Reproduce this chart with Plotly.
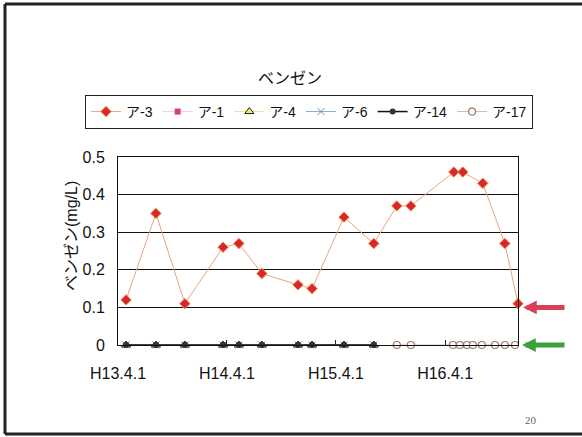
import plotly.graph_objects as go

# ベンゼン濃度（mg/L）の測定結果
dates_a3 = ["2001-04-28", "2001-08-06", "2001-11-11", "2002-03-19", "2002-05-11",
            "2002-07-27", "2002-11-25", "2003-01-11", "2003-04-28", "2003-08-06",
            "2003-10-22", "2003-12-08", "2004-04-30", "2004-05-30", "2004-08-05",
            "2004-10-18", "2004-12-01"]
values_a3 = [0.12, 0.35, 0.11, 0.26, 0.27, 0.19, 0.16, 0.15, 0.34, 0.27,
             0.37, 0.37, 0.46, 0.46, 0.43, 0.27, 0.11]

# 不検出（0）の地点
dates_early = ["2001-04-28", "2001-08-06", "2001-11-11", "2002-03-19", "2002-05-11",
               "2002-07-27", "2002-11-25", "2003-01-11", "2003-04-28", "2003-08-06"]
values_a1 = [0] * 10
values_a4 = [0] * 10
values_a6 = [0] * 10
values_a14 = [0] * 10

dates_a17 = ["2003-10-22", "2003-12-08", "2004-04-27", "2004-05-20", "2004-06-13",
             "2004-07-03", "2004-08-02", "2004-09-15", "2004-10-18", "2004-11-21"]
values_a17 = [0] * 10

tick_dates = ["2001-04-01", "2002-04-01", "2003-04-01", "2004-04-01"]
tick_labels = ["H13.4.1", "H14.4.1", "H15.4.1", "H16.4.1"]
y_ticks = [0, 0.1, 0.2, 0.3, 0.4, 0.5]
y_labels = ["0", "0.1", "0.2", "0.3", "0.4", "0.5"]

JP = "Liberation Sans, Noto Sans CJK JP, sans-serif"
NUM = "Liberation Sans, Arial, sans-serif"

fig = go.Figure()
fig.add_trace(go.Scatter(
    x=dates_a3, y=values_a3, name="ア-3", mode="lines+markers",
    line=dict(color="#e8a482", width=1),
    marker=dict(symbol="diamond", size=8, color="#d8262e",
                line=dict(color="#f08a3a", width=1)),
    cliponaxis=False))
fig.add_trace(go.Scatter(
    x=dates_early, y=values_a1, name="ア-1", mode="lines+markers",
    line=dict(color="#f4d0e0", width=1),
    marker=dict(symbol="square", size=6, color="#d83a8a"),
    cliponaxis=False))
fig.add_trace(go.Scatter(
    x=dates_early, y=values_a4, name="ア-4", mode="lines+markers",
    line=dict(color="#e8e4a0", width=1),
    marker=dict(symbol="triangle-up", size=8, color="#f4f060",
                line=dict(color="#222222", width=1)),
    cliponaxis=False))
fig.add_trace(go.Scatter(
    x=dates_early, y=values_a6, name="ア-6", mode="lines+markers",
    line=dict(color="#8aa8d8", width=1),
    marker=dict(symbol="x-thin", size=7, color="#6a8cc8",
                line=dict(color="#6a8cc8", width=1)),
    cliponaxis=False))
fig.add_trace(go.Scatter(
    x=dates_early, y=values_a14, name="ア-14", mode="lines+markers",
    line=dict(color="#111111", width=1.5),
    marker=dict(symbol="circle", size=6, color="#333333"),
    cliponaxis=False))
fig.add_trace(go.Scatter(
    x=dates_a17, y=values_a17, name="ア-17", mode="lines+markers",
    line=dict(color="#e0b4a4", width=1),
    marker=dict(symbol="circle", size=7, color="white",
                line=dict(color="#9a7a6a", width=1.2)),
    cliponaxis=False))

# 基準値・不検出を示す矢印
fig.add_annotation(x=1.0125, xref="paper", y=0.1, yref="y", text="",
                   showarrow=True, ax=43, ay=0, arrowhead=2, arrowsize=0.55,
                   arrowwidth=5, arrowcolor="#d8405a")
fig.add_annotation(x=1.01, xref="paper", y=0, yref="y", text="",
                   showarrow=True, ax=44, ay=0, arrowhead=2, arrowsize=0.55,
                   arrowwidth=5, arrowcolor="#3aa03a")

# タイトル・軸タイトル・ページ番号
fig.add_annotation(x=0.43, xref="paper", y=1.42, yref="paper", text="ベンゼン",
                   xanchor="center", yanchor="middle",
                   showarrow=False, font=dict(family=JP, size=16, color="#111"))
fig.add_annotation(x=-0.115, xref="paper", y=0.58, yref="paper",
                   text="ベンゼン(mg/L)", textangle=-90, showarrow=False,
                   xanchor="center", yanchor="middle",
                   font=dict(family=JP, size=16, color="#111"))
fig.add_annotation(x=1.0325, xref="paper", y=-0.40, yref="paper", text="20",
                   xanchor="center", yanchor="middle", showarrow=False,
                   font=dict(family="Liberation Serif, serif", size=11, color="#666"))

# 外枠
frame = dict(color="#222222", width=3)
fig.add_shape(type="line", xref="paper", yref="paper", x0=-0.2825, x1=-0.2825,
              y0=-0.4734, y1=1.8138, line=frame)
fig.add_shape(type="line", xref="paper", yref="paper", x0=-0.2825, x1=1.2,
              y0=1.8138, y1=1.8138, line=frame)
fig.add_shape(type="line", xref="paper", yref="paper", x0=-0.2825, x1=1.2,
              y0=-0.4734, y1=-0.4734, line=frame)

fig.update_layout(
    width=582, height=437,
    margin=dict(l=118, r=64, t=157, b=92),
    paper_bgcolor="white", plot_bgcolor="white",
    showlegend=True,
    legend=dict(orientation="h", x=-0.0825, y=1.33, xanchor="left", yanchor="top",
                bordercolor="#222222", borderwidth=1, bgcolor="white",
                font=dict(family=JP, size=14, color="#111"),
                itemwidth=30, tracegroupgap=0),
    xaxis=dict(type="date", range=["2001-04-01", "2004-12-01"],
               tickvals=tick_dates, ticktext=tick_labels,
               ticks="inside", ticklen=5, tickcolor="#222",
               showgrid=False, showline=True, mirror=True,
               linecolor="#111", linewidth=1, zeroline=False,
               ticklabelstandoff=14,
               tickfont=dict(family=NUM, size=16, color="#111")),
    yaxis=dict(range=[0, 0.5], tickvals=y_ticks, ticktext=y_labels,
               showgrid=True, gridcolor="#111", gridwidth=1,
               showline=True, mirror=True, linecolor="#111", linewidth=1,
               zeroline=False, ticks="", ticklabelstandoff=9,
               tickfont=dict(family=NUM, size=16, color="#111")),
)

fig.write_html("out.html")
